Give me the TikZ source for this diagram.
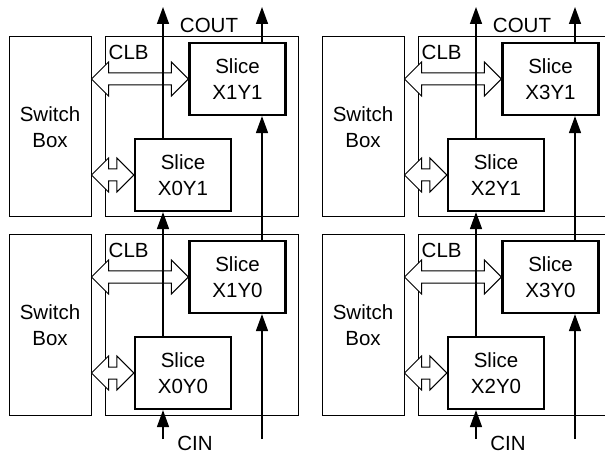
\documentclass[tikz,border=0pt]{standalone}
\usepackage{fontspec}
\setmainfont{Liberation Sans}
\usetikzlibrary{arrows.meta,calc}
\newcommand\sigfont{\fontsize{20.5}{26}\selectfont}
\tikzset{
  switchbox/.style={rectangle, draw, line width=1pt,
    minimum width=82pt, minimum height=180pt,
    align=center, inner sep=0pt},
  clbbox/.style={rectangle, draw, line width=1pt,
    minimum width=193pt, minimum height=180pt, inner sep=0pt},
  slicebox/.style={rectangle, draw, fill=white, line width=2.2pt,
    minimum width=96pt, minimum height=72pt,
    align=center, inner sep=0pt},
  busline/.style={draw, fill=white, line width=1pt, line join=miter},
  carry/.style={-{Triangle[length=17pt,width=12pt]}, line width=1.5pt},
  lbl/.style={inner sep=0pt},
}
% hollow two-way bus from a switch box to a slice
\newcommand\busarrow[2]{%
  \path[busline] let \p1=(#1.east |- #2.west), \p2=(#2.west) in
    (\p1) -- ++(17,17) -- ++(0,-11) -- ({\x2-17pt},{\y1+6pt})
    -- ++(0,11) -- (\p2) -- ++(-17,-17) -- ++(0,11)
    -- ({\x1+17pt},{\y1-6pt}) -- ++(0,-11) -- cycle;
}
\begin{document}
\begin{tikzpicture}[x=1pt, y=1pt, every node/.style={font=\sigfont}]
\useasboundingbox (0,0) rectangle (605,453);
\clip (0,0) rectangle (605,453);
\foreach \dx/\xa/\xb in {0/0/1, 313/2/3} {
  \begin{scope}[xshift=\dx pt]
  % switch boxes and CLBs
  \node[switchbox] (sw\xa-1) at (50,326) {Switch\\Box};
  \node[switchbox] (sw\xa-0) at (50,128) {Switch\\Box};
  \node[clbbox] (clb\xa-1) at (201.5,326) {};
  \node[clbbox] (clb\xa-0) at (201.5,128) {};
  \node[lbl, anchor=base west] (clbl\xa-1) at ($(clb\xa-1.north west)+(4,-23)$) {CLB};
  \node[lbl, anchor=base west] (clbl\xa-0) at ($(clb\xa-0.north west)+(4,-23)$) {CLB};
  % slices
  \node[slicebox] (sl\xb-1) at (237.5,374) {Slice\\X\xb Y1};
  \node[slicebox] (sl\xa-1) at (183,278) {Slice\\X\xa Y1};
  \node[slicebox] (sl\xb-0) at (237.5,176) {Slice\\X\xb Y0};
  \node[slicebox] (sl\xa-0) at (183,80) {Slice\\X\xa Y0};
  % buses
  \busarrow{sw\xa-1}{sl\xb-1}
  \busarrow{sw\xa-1}{sl\xa-1}
  \busarrow{sw\xa-0}{sl\xb-0}
  \busarrow{sw\xa-0}{sl\xa-0}
  % carry chains
  \coordinate (cin\xa) at (163,14);
  \coordinate (cout\xa) at (163,446);
  \coordinate (cin\xb) at (262,14);
  \coordinate (cout\xb) at (262,446);
  \foreach \c in {\xa,\xb} {
    \draw[carry] (cin\c) -- (cin\c |- sl\c-0.south);
    \draw[carry] (sl\c-0.north -| cin\c) -- (cin\c |- sl\c-1.south);
    \draw[carry] (sl\c-1.north -| cin\c) -- (cout\c);
  }
  \node[lbl] (coutlbl\xa) at (209,428) {COUT};
  \node[lbl] (cinlbl\xa) at (195,10) {CIN};
  \end{scope}
}
\end{tikzpicture}
\end{document}
